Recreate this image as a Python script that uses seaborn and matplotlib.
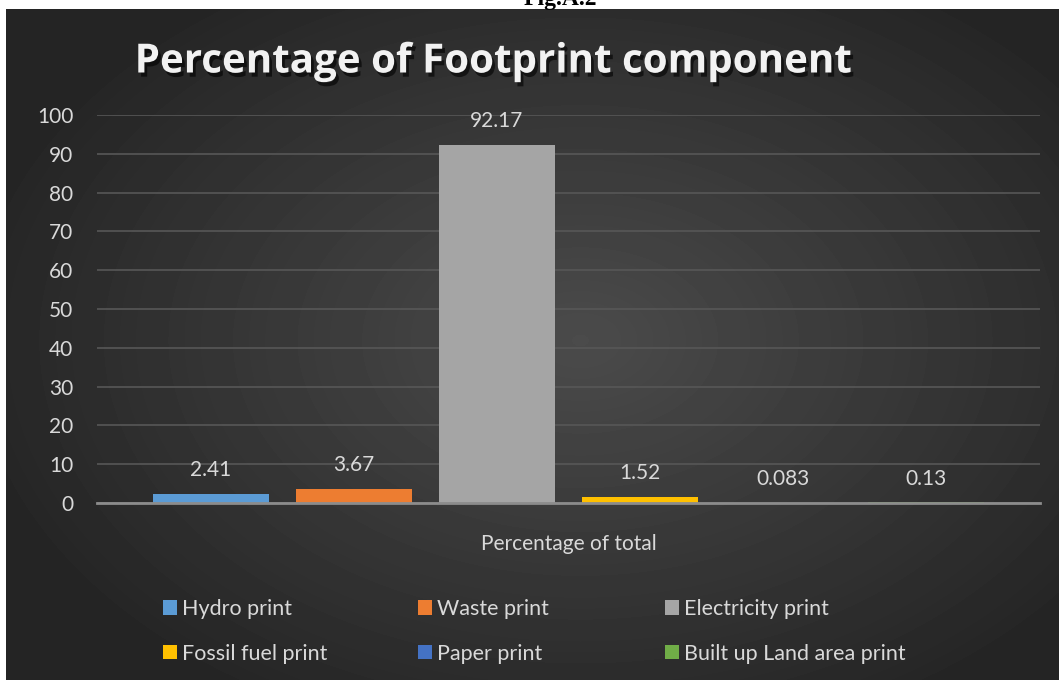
import numpy as np
import pandas as pd
import matplotlib
matplotlib.use('Agg')
import matplotlib.pyplot as plt
import matplotlib.patheffects as pe
from matplotlib.patches import Patch
import seaborn as sns

# data
series = ['Hydro print', 'Waste print', 'Electricity print',
          'Fossil fuel print', 'Paper print', 'Built up Land area print']
values = [2.41, 3.67, 92.17, 1.52, 0.083, 0.13]
value_labels = ['2.41', '3.67', '92.17', '1.52', '0.083', '0.13']
group = 'Percentage of total'
colors = ['#5b9bd5', '#ed7d31', '#a5a5a5', '#ffc000', '#4472c4', '#70ad47']
yticks = [0, 10, 20, 30, 40, 50, 60, 70, 80, 90, 100]

df = pd.DataFrame({'group': [group] * len(series), 'series': series, 'value': values})

sns.set_theme(style='white')
plt.rcParams['font.family'] = ['Lato', 'DejaVu Sans']
txt = '#d9d9d9'

W, H = 1059, 680
fig = plt.figure(figsize=(W / 100, H / 100), dpi=100, facecolor='white')

# dark radial gradient background
bg = fig.add_axes([0, 0, 1, 1])
bg.set_xlim(0, W)
bg.set_ylim(H, 0)
bg.axis('off')
yy, xx = np.mgrid[9:H, 6:W]
r = np.sqrt(((xx - 580) / 620.0) ** 2 + ((yy - 340) / 420.0) ** 2)
shade = np.clip(0.295 - 0.15 * r, 0.145, 0.3)
bg.imshow(shade, cmap='gray', vmin=0, vmax=1, extent=(6, W, H, 9), aspect='auto')

fig.text(560 / W, 1.0, 'Fig.A.2', ha='center', va='center', fontsize=17,
         fontweight='bold', family=['Liberation Serif', 'DejaVu Serif'], color='black')

ax = fig.add_axes([97 / W, 1 - 503 / H, (1040 - 97) / W, (503 - 115) / H])
ax.patch.set_alpha(0)
sns.barplot(data=df, x='group', y='value', hue='series', hue_order=series,
            palette=colors, width=0.91, gap=0.19, saturation=1, legend=False,
            linewidth=0, ax=ax)

ax.set_ylim(0, 100)
ax.set_xlim(-0.5, 0.5)
ax.set_yticks(yticks)
ax.set_xlabel('')
ax.set_ylabel('')
ax.grid(axis='y', color='#575757', linewidth=1.2)
ax.set_axisbelow(True)
for s in ['top', 'right', 'left']:
    ax.spines[s].set_visible(False)
ax.spines['bottom'].set_color('#8c8c8c')
ax.spines['bottom'].set_linewidth(2)
ax.tick_params(axis='y', length=0, pad=17, labelsize=15, labelcolor=txt)
ax.tick_params(axis='x', length=0, pad=22, labelsize=15, labelcolor=txt)

for cont, lab in zip(ax.containers, value_labels):
    ax.bar_label(cont, labels=[lab], padding=10, fontsize=15, color=txt)

title = fig.text(492 / W, 1 - 62 / H, 'Percentage of Footprint component',
                 ha='center', va='center', fontsize=29, fontweight='bold',
                 family=['Open Sans', 'DejaVu Sans'], color='#f2f2f2')
title.set_path_effects([pe.withSimplePatchShadow(offset=(2, -3), shadow_rgbFace='black', alpha=0.6)])

# legend: three columns of two rows
col_x = [163, 418, 665]
for c, x in enumerate(col_x):
    idx = [c, c + 3]
    handles = [Patch(facecolor=colors[i], edgecolor='none', label=series[i]) for i in idx]
    fig.legend(handles=handles, loc='upper left',
               bbox_to_anchor=(x / W, 1 - 599 / H), frameon=False,
               fontsize=15.5, labelcolor=txt, handlelength=0.65, handleheight=0.65,
               handletextpad=0.25, labelspacing=1.15, borderpad=0, borderaxespad=0)

fig.savefig('out.png', dpi=100, facecolor='white')
